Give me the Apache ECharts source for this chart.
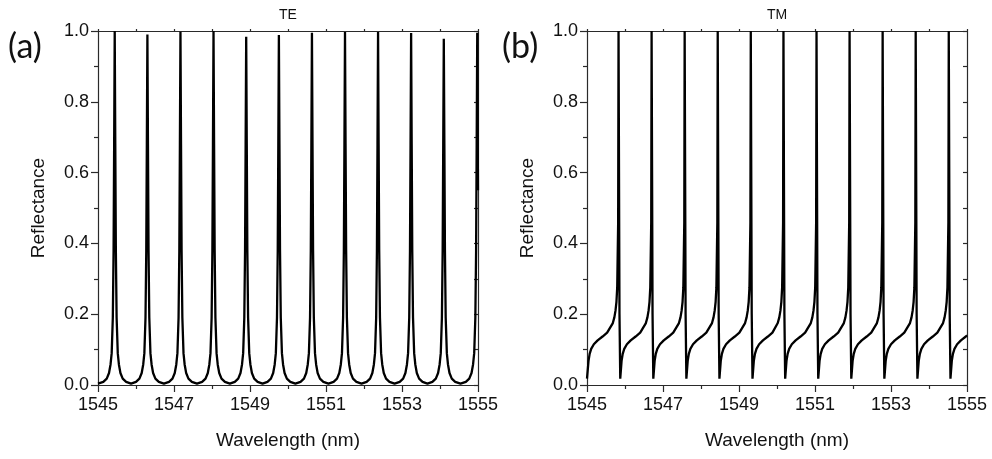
<!DOCTYPE html>
<html>
<head>
<meta charset="utf-8">
<script src="https://cdn.jsdelivr.net/npm/echarts@6/dist/echarts.min.js"></script>
<style>
  html, body { margin: 0; padding: 0; background: #fff; }
  #chart { width: 992px; height: 459px; }
</style>
</head>
<body>
<div id="chart"></div>
<script>
// Reflectance spectra of the resonator, [wavelength (nm), reflectance]
const panelTitles = ['TE', 'TM'];
const panelLetters = ['(a)', '(b)'];
const xLabel = 'Wavelength (nm)';
const yLabel = 'Reflectance';
const wavelengthRange = [1545, 1555];
const wavelengthStep = 2;
const reflectanceRange = [0, 1];
const reflectanceStep = 0.2;

// TE: symmetric narrow peaks, one line per resonance, valley minima in between
const teSpectrum = [
  [1545.00,0.004],
  [1545.14,0.009],[1545.23,0.018],[1545.29,0.034],[1545.33,0.058],[1545.36,0.09],[1545.39,0.19],[1545.41,0.38],[1545.425,0.68],[1545.44,1.000],[1545.455,0.68],[1545.47,0.38],[1545.49,0.19],[1545.52,0.09],[1545.55,0.058],[1545.59,0.034],[1545.65,0.018],[1545.74,0.009],
  [1545.87,0.004],
  [1546.00,0.009],[1546.09,0.018],[1546.15,0.034],[1546.19,0.058],[1546.22,0.09],[1546.25,0.19],[1546.27,0.38],[1546.285,0.68],[1546.30,0.990],[1546.315,0.68],[1546.33,0.38],[1546.35,0.19],[1546.38,0.09],[1546.41,0.058],[1546.45,0.034],[1546.51,0.018],[1546.60,0.009],
  [1546.735,0.004],
  [1546.87,0.009],[1546.96,0.018],[1547.02,0.034],[1547.06,0.058],[1547.09,0.09],[1547.12,0.19],[1547.14,0.38],[1547.155,0.68],[1547.17,0.998],[1547.185,0.68],[1547.20,0.38],[1547.22,0.19],[1547.25,0.09],[1547.28,0.058],[1547.32,0.034],[1547.38,0.018],[1547.47,0.009],
  [1547.605,0.004],
  [1547.74,0.009],[1547.83,0.018],[1547.89,0.034],[1547.93,0.058],[1547.96,0.09],[1547.99,0.19],[1548.01,0.38],[1548.025,0.68],[1548.04,1.000],[1548.055,0.68],[1548.07,0.38],[1548.09,0.19],[1548.12,0.09],[1548.15,0.058],[1548.19,0.034],[1548.25,0.018],[1548.34,0.009],
  [1548.47,0.004],
  [1548.60,0.009],[1548.69,0.018],[1548.75,0.034],[1548.79,0.058],[1548.82,0.09],[1548.85,0.19],[1548.87,0.38],[1548.885,0.68],[1548.90,0.984],[1548.915,0.68],[1548.93,0.38],[1548.95,0.19],[1548.98,0.09],[1549.01,0.058],[1549.05,0.034],[1549.11,0.018],[1549.20,0.009],
  [1549.33,0.004],
  [1549.46,0.009],[1549.55,0.018],[1549.61,0.034],[1549.65,0.058],[1549.68,0.09],[1549.71,0.19],[1549.73,0.38],[1549.745,0.68],[1549.76,0.989],[1549.775,0.68],[1549.79,0.38],[1549.81,0.19],[1549.84,0.09],[1549.87,0.058],[1549.91,0.034],[1549.97,0.018],[1550.06,0.009],
  [1550.195,0.004],
  [1550.33,0.009],[1550.42,0.018],[1550.48,0.034],[1550.52,0.058],[1550.55,0.09],[1550.58,0.19],[1550.60,0.38],[1550.615,0.68],[1550.63,0.995],[1550.645,0.68],[1550.66,0.38],[1550.68,0.19],[1550.71,0.09],[1550.74,0.058],[1550.78,0.034],[1550.84,0.018],[1550.93,0.009],
  [1551.065,0.004],
  [1551.20,0.009],[1551.29,0.018],[1551.35,0.034],[1551.39,0.058],[1551.42,0.09],[1551.45,0.19],[1551.47,0.38],[1551.485,0.68],[1551.50,0.997],[1551.515,0.68],[1551.53,0.38],[1551.55,0.19],[1551.58,0.09],[1551.61,0.058],[1551.65,0.034],[1551.71,0.018],[1551.80,0.009],
  [1551.935,0.004],
  [1552.07,0.009],[1552.16,0.018],[1552.22,0.034],[1552.26,0.058],[1552.29,0.09],[1552.32,0.19],[1552.34,0.38],[1552.355,0.68],[1552.37,0.997],[1552.385,0.68],[1552.40,0.38],[1552.42,0.19],[1552.45,0.09],[1552.48,0.058],[1552.52,0.034],[1552.58,0.018],[1552.67,0.009],
  [1552.805,0.004],
  [1552.94,0.009],[1553.03,0.018],[1553.09,0.034],[1553.13,0.058],[1553.16,0.09],[1553.19,0.19],[1553.21,0.38],[1553.225,0.68],[1553.24,0.994],[1553.255,0.68],[1553.27,0.38],[1553.29,0.19],[1553.32,0.09],[1553.35,0.058],[1553.39,0.034],[1553.45,0.018],[1553.54,0.009],
  [1553.67,0.004],
  [1553.80,0.009],[1553.89,0.018],[1553.95,0.034],[1553.99,0.058],[1554.02,0.09],[1554.05,0.19],[1554.07,0.38],[1554.085,0.68],[1554.10,0.978],[1554.115,0.68],[1554.13,0.38],[1554.15,0.19],[1554.18,0.09],[1554.21,0.058],[1554.25,0.034],[1554.31,0.018],[1554.40,0.009],
  [1554.54,0.004],
  [1554.68,0.009],[1554.77,0.018],[1554.83,0.034],[1554.87,0.058],[1554.90,0.09],[1554.93,0.19],[1554.95,0.38],[1554.965,0.68],[1554.98,0.995],[1555.00,0.55]
];

// TM: asymmetric (Fano-like) resonances, one line per period
const tmSpectrum = [
  [1545.00,0.018],[1545.04,0.068],[1545.07,0.088],[1545.11,0.102],[1545.18,0.115],[1545.28,0.126],[1545.41,0.137],[1545.53,0.148],[1545.68,0.175],[1545.72,0.191],[1545.75,0.21],[1545.775,0.235],[1545.795,0.275],[1545.82,0.46],[1545.83,1.0],
  [1545.855,0.2],[1545.875,0.018],[1545.91,0.068],[1545.94,0.088],[1545.98,0.102],[1546.05,0.115],[1546.15,0.126],[1546.28,0.137],[1546.40,0.148],[1546.55,0.175],[1546.59,0.191],[1546.62,0.21],[1546.645,0.235],[1546.665,0.275],[1546.69,0.46],[1546.70,1.0],
  [1546.725,0.2],[1546.745,0.018],[1546.78,0.068],[1546.81,0.088],[1546.85,0.102],[1546.92,0.115],[1547.02,0.126],[1547.15,0.137],[1547.27,0.148],[1547.42,0.175],[1547.46,0.191],[1547.49,0.21],[1547.515,0.235],[1547.535,0.275],[1547.56,0.46],[1547.57,1.0],
  [1547.595,0.2],[1547.615,0.018],[1547.65,0.068],[1547.68,0.088],[1547.72,0.102],[1547.79,0.115],[1547.89,0.126],[1548.02,0.137],[1548.14,0.148],[1548.29,0.175],[1548.33,0.191],[1548.36,0.21],[1548.385,0.235],[1548.405,0.275],[1548.43,0.46],[1548.44,1.0],
  [1548.465,0.2],[1548.485,0.018],[1548.52,0.068],[1548.55,0.088],[1548.59,0.102],[1548.66,0.115],[1548.76,0.126],[1548.89,0.137],[1549.01,0.148],[1549.16,0.175],[1549.20,0.191],[1549.23,0.21],[1549.255,0.235],[1549.275,0.275],[1549.30,0.46],[1549.31,1.0],
  [1549.335,0.2],[1549.355,0.018],[1549.39,0.068],[1549.42,0.088],[1549.46,0.102],[1549.53,0.115],[1549.63,0.126],[1549.76,0.137],[1549.88,0.148],[1550.02,0.175],[1550.06,0.191],[1550.09,0.21],[1550.115,0.235],[1550.135,0.275],[1550.16,0.46],[1550.17,1.0],
  [1550.195,0.2],[1550.215,0.018],[1550.25,0.068],[1550.28,0.088],[1550.32,0.102],[1550.39,0.115],[1550.49,0.126],[1550.62,0.137],[1550.74,0.148],[1550.89,0.175],[1550.93,0.191],[1550.96,0.21],[1550.985,0.235],[1551.005,0.275],[1551.03,0.46],[1551.04,1.0],
  [1551.065,0.2],[1551.085,0.018],[1551.12,0.068],[1551.15,0.088],[1551.19,0.102],[1551.26,0.115],[1551.36,0.126],[1551.49,0.137],[1551.61,0.148],[1551.76,0.175],[1551.80,0.191],[1551.83,0.21],[1551.855,0.235],[1551.875,0.275],[1551.90,0.46],[1551.91,1.0],
  [1551.935,0.2],[1551.955,0.018],[1551.99,0.068],[1552.02,0.088],[1552.06,0.102],[1552.13,0.115],[1552.23,0.126],[1552.36,0.137],[1552.48,0.148],[1552.63,0.175],[1552.67,0.191],[1552.70,0.21],[1552.725,0.235],[1552.745,0.275],[1552.77,0.46],[1552.78,1.0],
  [1552.805,0.2],[1552.825,0.018],[1552.86,0.068],[1552.89,0.088],[1552.93,0.102],[1553.00,0.115],[1553.10,0.126],[1553.23,0.137],[1553.35,0.148],[1553.50,0.175],[1553.54,0.191],[1553.57,0.21],[1553.595,0.235],[1553.615,0.275],[1553.64,0.46],[1553.65,1.0],
  [1553.675,0.2],[1553.695,0.018],[1553.73,0.068],[1553.76,0.088],[1553.80,0.102],[1553.87,0.115],[1553.97,0.126],[1554.10,0.137],[1554.22,0.148],[1554.37,0.175],[1554.41,0.191],[1554.44,0.21],[1554.465,0.235],[1554.485,0.275],[1554.51,0.46],[1554.52,1.0],
  [1554.545,0.2],[1554.565,0.018],[1554.60,0.068],[1554.63,0.088],[1554.67,0.102],[1554.74,0.115],[1554.84,0.126],[1554.97,0.137],[1555.00,0.14]
];

const FONT = "'Liberation Sans', Arial, sans-serif";
const INK = '#111';
const AXIS = '#2a2a2a';

const grids = [
  { left: 98, top: 31, width: 380, height: 354 },
  { left: 587, top: 31, width: 380, height: 354 }
];

function bottomAxis(g) {
  return {
    type: 'value', gridIndex: g, position: 'bottom',
    min: wavelengthRange[0], max: wavelengthRange[1], interval: wavelengthStep,
    name: xLabel, nameLocation: 'middle', nameGap: 46,
    nameTextStyle: { fontFamily: FONT, fontSize: 19, color: INK },
    axisLine: { show: true, onZero: false, lineStyle: { color: AXIS, width: 1.2 } },
    axisTick: { show: true, length: 7, inside: false, lineStyle: { color: AXIS, width: 1.2 } },
    minorTick: { show: true, splitNumber: 2, length: 4, lineStyle: { color: AXIS, width: 1.2 } },
    axisLabel: { fontFamily: FONT, fontSize: 18, color: INK, margin: 11,
                 formatter: v => String(v) },
    splitLine: { show: false }
  };
}
function topAxis(g) {
  return {
    type: 'value', gridIndex: g, position: 'top',
    min: wavelengthRange[0], max: wavelengthRange[1], interval: wavelengthStep,
    name: panelTitles[g], nameLocation: 'middle', nameGap: 9,
    nameTextStyle: { fontFamily: FONT, fontSize: 14, color: INK },
    axisLine: { show: true, onZero: false, lineStyle: { color: AXIS, width: 1.2 } },
    axisTick: { show: true, length: 2, lineStyle: { color: AXIS, width: 1.2 } },
    minorTick: { show: true, splitNumber: 2, length: 2, lineStyle: { color: AXIS, width: 1.2 } },
    axisLabel: { show: false },
    splitLine: { show: false }
  };
}
function leftAxis(g) {
  return {
    type: 'value', gridIndex: g, position: 'left',
    min: reflectanceRange[0], max: reflectanceRange[1], interval: reflectanceStep,
    name: yLabel, nameLocation: 'middle', nameGap: 50,
    nameTextStyle: { fontFamily: FONT, fontSize: 19, color: INK },
    axisLine: { show: true, onZero: false, lineStyle: { color: AXIS, width: 1.2 } },
    axisTick: { show: true, length: 7, lineStyle: { color: AXIS, width: 1.2 } },
    minorTick: { show: true, splitNumber: 2, length: 4, lineStyle: { color: AXIS, width: 1.2 } },
    axisLabel: { fontFamily: FONT, fontSize: 18, color: INK, margin: 9,
                 formatter: v => v.toFixed(1) },
    splitLine: { show: false }
  };
}
function rightAxis(g) {
  return {
    type: 'value', gridIndex: g, position: 'right',
    min: reflectanceRange[0], max: reflectanceRange[1], interval: reflectanceStep,
    axisLine: { show: true, onZero: false, lineStyle: { color: AXIS, width: 1.2 } },
    axisTick: { show: true, inside: true, length: 4, lineStyle: { color: AXIS, width: 1.2 } },
    minorTick: { show: true, splitNumber: 2, length: 4, lineStyle: { color: AXIS, width: 1.2 } },
    axisLabel: { show: false },
    splitLine: { show: false }
  };
}

const curveStyle = { color: '#000', width: 2.3 };

const chart = echarts.init(document.getElementById('chart'), null, { renderer: 'canvas' });
chart.setOption({
  animation: false,
  backgroundColor: '#fff',
  grid: grids,
  xAxis: [bottomAxis(0), topAxis(0), bottomAxis(1), topAxis(1)],
  yAxis: [leftAxis(0), rightAxis(0), leftAxis(1), rightAxis(1)],
  series: [
    { name: 'TE', type: 'line', xAxisIndex: 0, yAxisIndex: 0, data: teSpectrum,
      showSymbol: false, sampling: null, lineStyle: curveStyle },
    { name: 'TM', type: 'line', xAxisIndex: 2, yAxisIndex: 2, data: tmSpectrum,
      showSymbol: false, sampling: null, lineStyle: curveStyle }
  ],
  graphic: panelLetters.map((t, i) => ({
    type: 'text',
    left: i === 0 ? 8 : 502,
    top: 30,
    style: { text: t, fontFamily: "Lato, 'Open Sans', sans-serif", fontSize: 34, fill: INK }
  }))
});
</script>
</body>
</html>
